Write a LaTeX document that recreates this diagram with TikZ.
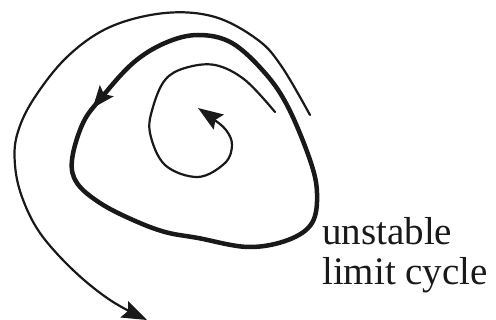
\documentclass[tikz,border=0pt]{standalone}
\usepackage{fontspec}
\setmainfont{Liberation Serif}
\usepackage{tikz}
\usetikzlibrary{arrows.meta, positioning, decorations.markings}
\definecolor{inkcol}{RGB}{25,25,25}

\begin{document}
\begin{tikzpicture}[x=1pt, y=-1pt,
  traj/.style={draw=inkcol, line width=2.2pt, line cap=round},
  limcyc/.style={draw=inkcol, line width=4.5pt, line join=round},
  headtip/.style={-{Stealth[length=25pt, width=18pt, inset=4pt]}},
  lbl/.style={font=\fontsize{39}{40}\selectfont, inner sep=0pt, align=left, text=inkcol},
]
\useasboundingbox (0,0) rectangle (496,320);
% unstable limit cycle (thick)
\draw[limcyc, postaction={decorate}, decoration={markings,
      mark=at position 0.085 with {\arrow{Stealth[length=22pt, width=17pt, inset=4pt]}}}]
  plot[smooth cycle, tension=0.6] coordinates {
    (165,43) (133,63) (102,97) (83,123) (72,160) (77,183) (100,203)
    (133,220) (165,232) (198,238) (248,247) (288,240) (312,223)
    (317,193) (310,160) (288,107) (265,73) (232,43) (198,35)};
% outer trajectory
\draw[traj, headtip] plot[smooth, tension=0.6] coordinates {
    (310,115) (282,67) (258,40) (215,17) (165,13) (110,27) (67,57)
    (33,100) (17,135) (15,165) (22,197) (40,233) (73,270) (110,300)
    (147,320)};
% inner spiral
\draw[traj, headtip] plot[smooth, tension=0.6] coordinates {
    (275,112) (245,80) (215,65) (185,68) (165,80) (153,107) (150,133)
    (165,165) (198,177) (225,163) (232,145) (226,130) (212,118) (198,108)};
\node[lbl, anchor=base west] (label) at (322,285) {unstable\\limit cycle};
\end{tikzpicture}
\end{document}
